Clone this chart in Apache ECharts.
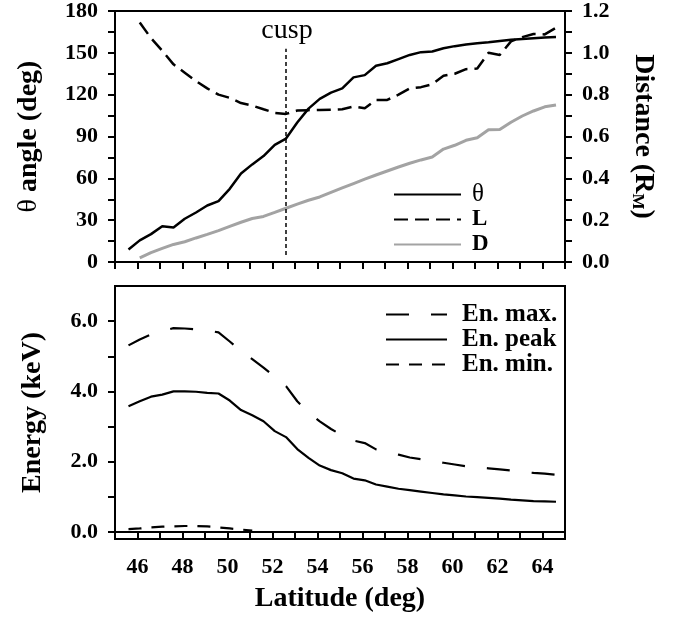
<!DOCTYPE html>
<html>
<head>
<meta charset="utf-8">
<script src="https://cdn.jsdelivr.net/npm/echarts@6/dist/echarts.min.js"></script>
<style>
  html, body { margin: 0; padding: 0; background: #fff; }
  #main { width: 677px; height: 619px; }
</style>
</head>
<body>
<div id="main"></div>
<script>
// latitude samples (deg)
const lat = [45.6, 46.1, 46.6, 47.1, 47.6, 48.1, 48.6, 49.1, 49.6, 50.1, 50.6, 51.1, 51.6,
  52.1, 52.6, 53.1, 53.6, 54.1, 54.6, 55.1, 55.6, 56.1, 56.6, 57.1, 57.6, 58.1, 58.6,
  59.1, 59.6, 60.1, 60.6, 61.1, 61.6, 62.1, 62.6, 63.1, 63.6, 64.1, 64.6];

// top panel
const theta = [9, 15.5, 20, 25.7, 24.8, 31, 35.5, 40.5, 43.6, 52.5, 63.5, 70, 76, 84, 88.5,
  100, 110, 117, 121.5, 124.5, 132.4, 134, 140.7, 142.5, 145.5, 148.5, 150.5, 151, 153.3,
  154.8, 156, 156.8, 157.6, 158.5, 159.3, 159.9, 160.5, 161, 161.4];
const distL = [null, 1.145, 1.07, 1.01, 0.945, 0.905, 0.865, 0.83, 0.80, 0.785, 0.76, 0.748,
  0.73, 0.713, 0.708, 0.724, 0.726, 0.727, 0.728, 0.73, 0.743, 0.735, 0.775, 0.775, 0.80,
  0.83, 0.836, 0.85, 0.89, 0.90, 0.922, 0.925, 1.0, 0.99, 1.055, 1.075, 1.09, 1.088, 1.12];
const distD = [null, 0.02, 0.045, 0.065, 0.084, 0.097, 0.115, 0.132, 0.15, 0.17, 0.19, 0.208,
  0.218, 0.237, 0.257, 0.277, 0.295, 0.311, 0.333, 0.354, 0.375, 0.396, 0.416, 0.435, 0.454,
  0.472, 0.488, 0.502, 0.54, 0.558, 0.582, 0.594, 0.632, 0.633, 0.668, 0.698, 0.722, 0.742, 0.751];
const cuspLat = 52.6;
const cuspRange = [5, 153];

// bottom panel (keV)
const enMax = [5.31, 5.48, 5.62, 5.72, 5.80, 5.79, 5.77, 5.74, 5.68, 5.42, 5.15, 4.92, 4.68,
  4.42, 4.15, 3.72, 3.40, 3.15, 2.93, 2.75, 2.60, 2.53, 2.35, 2.28, 2.20, 2.12, 2.07, 2.02,
  1.97, 1.92, 1.87, 1.84, 1.81, 1.78, 1.75, 1.71, 1.68, 1.66, 1.63];
const enPeak = [3.58, 3.72, 3.85, 3.91, 4.00, 4.00, 3.99, 3.96, 3.94, 3.74, 3.47, 3.32, 3.15,
  2.87, 2.70, 2.36, 2.11, 1.89, 1.76, 1.67, 1.52, 1.47, 1.35, 1.29, 1.23, 1.19, 1.15, 1.11,
  1.07, 1.04, 1.01, 0.99, 0.97, 0.95, 0.92, 0.90, 0.88, 0.87, 0.86];
const enMin = [0.08, 0.10, 0.13, 0.15, 0.16, 0.17, 0.17, 0.16, 0.13, 0.10, 0.07, 0.04];

// ticks
const xTicks = [45, 46, 47, 48, 49, 50, 51, 52, 53, 54, 55, 56, 57, 58, 59, 60, 61, 62, 63, 64, 65];
const xLabels = [46, 48, 50, 52, 54, 56, 58, 60, 62, 64];
const thetaTicks = [0, 15, 30, 45, 60, 75, 90, 105, 120, 135, 150, 165, 180];
const thetaLabels = [0, 30, 60, 90, 120, 150, 180];
const distTicks = [0, 0.1, 0.2, 0.3, 0.4, 0.5, 0.6, 0.7, 0.8, 0.9, 1.0, 1.1, 1.2];
const distLabels = [0, 0.2, 0.4, 0.6, 0.8, 1.0, 1.2];
const enTicks = [0, 1, 2, 3, 4, 5, 6];
const enLabels = [0, 2, 4, 6];

function pairs(vals) {
  const out = [];
  vals.forEach((v, i) => { if (v != null) out.push([lat[i], v]); });
  return out;
}

const serif = '"Liberation Serif", "DejaVu Serif", serif';
const axLine = { show: true, lineStyle: { color: '#000', width: 2 } };
const lbl = { color: '#000', fontFamily: serif, fontWeight: 'bold', fontSize: 22 };
const nameStyle = { color: '#000', fontFamily: serif, fontWeight: 'bold', fontSize: 28 };
// hide the circle that line legends draw in the middle
const noDot = { color: 'rgba(0,0,0,0)', borderWidth: 0, opacity: 0 };

const chart = echarts.init(document.getElementById('main'));
chart.setOption({
  animation: false,
  backgroundColor: '#fff',
  grid: [
    { left: 115, top: 10, width: 450, height: 252, show: true, borderColor: '#000', borderWidth: 2 },
    { left: 115, top: 286, width: 450, height: 253, show: true, borderColor: '#000', borderWidth: 2 }
  ],
  xAxis: [
    {
      gridIndex: 0, type: 'value', min: 45, max: 65,
      axisLine: axLine,
      axisTick: { customValues: xTicks, length: 7, lineStyle: { width: 2, color: '#000' } },
      axisLabel: { show: false },
      splitLine: { show: false }
    },
    {
      gridIndex: 1, type: 'value', min: 45, max: 65,
      axisLine: axLine,
      axisTick: { customValues: xTicks, length: 7, lineStyle: { width: 2, color: '#000' } },
      axisLabel: Object.assign({ customValues: xLabels, margin: 17 }, lbl),
      splitLine: { show: false },
      name: 'Latitude (deg)', nameLocation: 'middle', nameGap: 46, nameTextStyle: nameStyle
    }
  ],
  yAxis: [
    {
      gridIndex: 0, type: 'value', min: 0, max: 180,
      axisLine: axLine,
      axisTick: { customValues: thetaTicks, length: 7, lineStyle: { width: 2, color: '#000' } },
      axisLabel: Object.assign({ customValues: thetaLabels, margin: 17 }, lbl),
      splitLine: { show: false },
      name: '{r|θ} angle (deg)', nameLocation: 'middle', nameGap: 72,
      nameTextStyle: Object.assign({ rich: { r: { fontFamily: serif, fontSize: 28, fontWeight: 'normal', color: '#000' } } }, nameStyle)
    },
    {
      gridIndex: 0, type: 'value', min: 0, max: 1.2, position: 'right',
      axisLine: axLine,
      axisTick: { customValues: distTicks, length: 7, lineStyle: { width: 2, color: '#000' } },
      axisLabel: Object.assign({ customValues: distLabels, margin: 17, formatter: v => v.toFixed(1) }, lbl),
      splitLine: { show: false },
      name: 'Distance (R{s|M})', nameLocation: 'middle', nameGap: 64, nameRotate: -90,
      nameTextStyle: Object.assign({ rich: { s: { fontFamily: serif, fontSize: 17, fontWeight: 'bold', color: '#000', verticalAlign: 'bottom', padding: [12, 0, 0, 0] } } }, nameStyle)
    },
    {
      gridIndex: 1, type: 'value', min: -0.2, max: 7,
      axisLine: axLine,
      axisTick: { customValues: enTicks, length: 7, lineStyle: { width: 2, color: '#000' } },
      axisLabel: Object.assign({ customValues: enLabels, margin: 17, formatter: v => v.toFixed(1) }, lbl),
      splitLine: { show: false },
      name: 'Energy (keV)', nameLocation: 'middle', nameGap: 68, nameTextStyle: nameStyle
    }
  ],
  legend: [
    {
      data: ['θ', 'L', 'D'], orient: 'vertical', left: 388, top: 177,
      itemWidth: 67, itemHeight: 20, itemGap: 0, itemStyle: noDot,
      formatter: n => n === 'θ' ? '{r|θ}' : n,
      textStyle: { color: '#000', fontFamily: serif, fontWeight: 'bold', fontSize: 23, lineHeight: 25, padding: [0, 0, 0, 6],
        rich: { r: { fontFamily: serif, fontSize: 25, fontWeight: 'normal', color: '#000', lineHeight: 25 } } }
    },
    {
      data: ['En. max.', 'En. peak', 'En. min.'], orient: 'vertical', left: 380, top: 297,
      itemWidth: 61, itemHeight: 20, itemGap: 0, itemStyle: noDot,
      textStyle: { color: '#000', fontFamily: serif, fontWeight: 'bold', fontSize: 25, lineHeight: 25, padding: [0, 0, 0, 10] }
    }
  ],
  graphic: [
    { type: 'text', x: 287, y: 17, style: { text: 'cusp', font: '28px ' + serif, fill: '#000', textAlign: 'center' } }
  ],
  series: [
    { name: 'θ', type: 'line', color: '#000', xAxisIndex: 0, yAxisIndex: 0, data: pairs(theta), symbol: 'none',
      lineStyle: { color: '#000', width: 2.5 } },
    { name: 'L', type: 'line', color: '#000', xAxisIndex: 0, yAxisIndex: 1, data: pairs(distL), symbol: 'none',
      lineStyle: { color: '#000', width: 2.5, type: [14, 7] } },
    { name: 'D', type: 'line', color: '#a3a3a3', xAxisIndex: 0, yAxisIndex: 1, data: pairs(distD), symbol: 'none',
      lineStyle: { color: '#a3a3a3', width: 3 } },
    { name: 'cusp', type: 'line', color: '#000', xAxisIndex: 0, yAxisIndex: 0, symbol: 'none',
      data: [[cuspLat, cuspRange[0]], [cuspLat, cuspRange[1]]],
      lineStyle: { color: '#000', width: 1.5, type: [4, 3] } },
    { name: 'En. max.', type: 'line', color: '#000', xAxisIndex: 1, yAxisIndex: 2, data: pairs(enMax), symbol: 'none',
      lineStyle: { color: '#000', width: 2.2, type: [23, 22] } },
    { name: 'En. peak', type: 'line', color: '#000', xAxisIndex: 1, yAxisIndex: 2, data: pairs(enPeak), symbol: 'none',
      lineStyle: { color: '#000', width: 2.2 } },
    { name: 'En. min.', type: 'line', color: '#000', xAxisIndex: 1, yAxisIndex: 2, data: pairs(enMin), symbol: 'none',
      lineStyle: { color: '#000', width: 2.2, type: [13, 10] } }
  ]
});
</script>
</body>
</html>
